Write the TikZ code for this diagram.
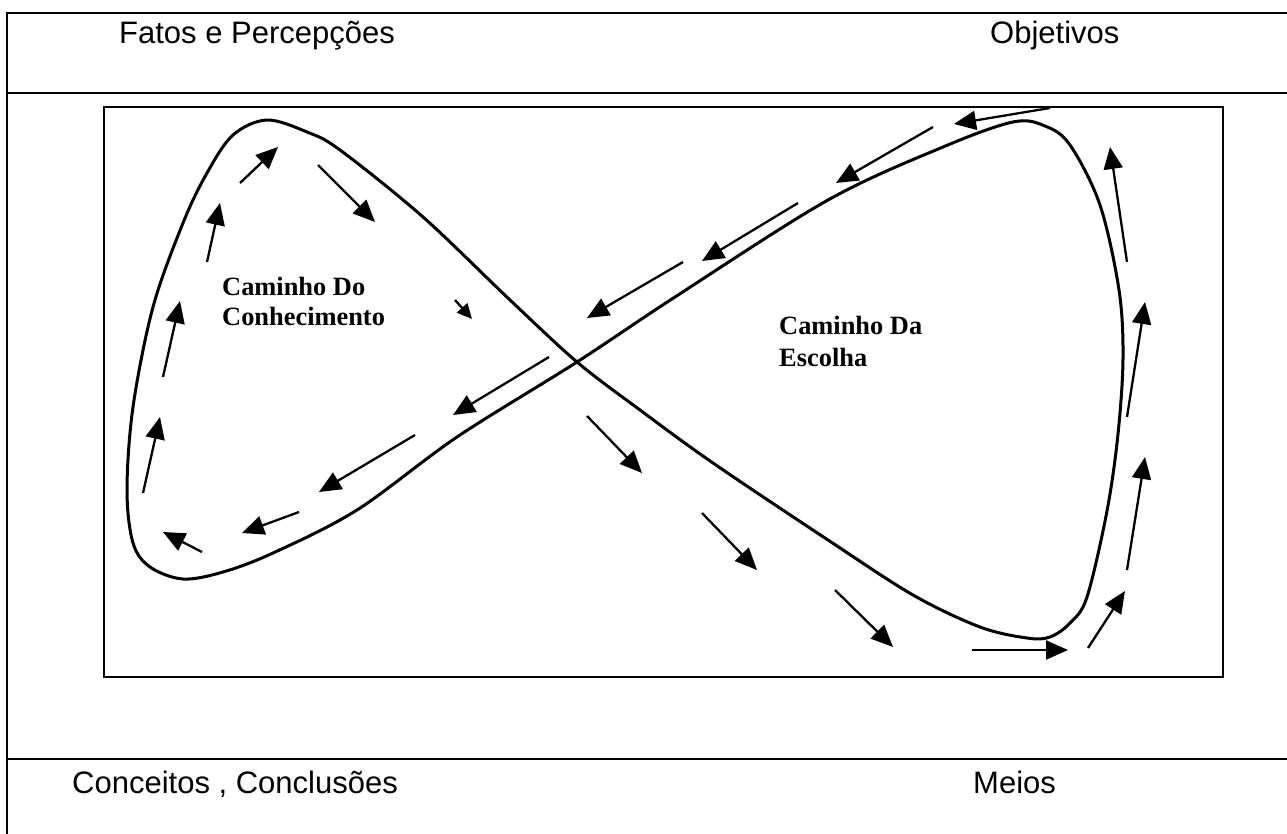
\documentclass[tikz,border=0pt]{standalone}
\usepackage{fontspec}
\setmainfont{Liberation Serif}
\newfontfamily\hdrfont{Liberation Sans}
\usetikzlibrary{arrows.meta}
\begin{document}
\begin{tikzpicture}[x=1pt,y=-1pt,
  frame/.style={line width=2pt},
  loopline/.style={line width=3pt, line join=round},
  flow/.style={line width=2.3pt, -{Triangle[length=22pt,width=19pt]}},
  smallflow/.style={line width=2.3pt, -{Triangle[length=15pt,width=14pt]}},
  header/.style={anchor=base west, inner sep=0pt, font=\hdrfont\fontsize{31}{37}\selectfont},
  pathlabel/.style={anchor=base west, inner sep=0pt, font=\bfseries\fontsize{26.4}{31}\selectfont}]
\useasboundingbox (0,0) rectangle (1287,834);
% outer table lines
\draw[frame] (1287,13) -- (7,13) -- (7,834);
\draw[frame] (7,93) -- (1287,93);
\draw[frame] (7,759) -- (1287,759);
% inner box
\draw[frame] (104,107) rectangle (1223,677);
% headers
\node[header] (fatos) at (119,44) {Fatos e Percepções};
\node[header] (obj) at (990,44) {Objetivos};
\node[header] (conc) at (72,793) {Conceitos , Conclusões};
\node[header] (meios) at (973,793) {Meios};
% labels
\node[pathlabel] (cdo1) at (222,295) {Caminho Do};
\node[pathlabel] (cdo2) at (222,325) {Conhecimento};
\node[pathlabel] (cda1) at (779,334) {Caminho Da};
\node[pathlabel] (cda2) at (779,366) {Escolha};
% figure eight
\draw[loopline] plot[smooth cycle, tension=0.55] coordinates {
 (577,362) (510,300) (423,217) (340,150) (307,132) (267,120) (233,135)
 (207,173) (183,223) (153,307) (133,407) (127,490) (133,543) (150,567)
 (183,579) (223,572) (273,553) (357,510) (457,437) (577,362)
 (675,297) (828,200) (943,147) (1013,122) (1045,126) (1070,145)
 (1100,205) (1119,290) (1123,358) (1118,434) (1107,511) (1087,597)
 (1070,623) (1050,637) (1027,638) (980,627) (913,595) (828,540)
 (713,463) (640,410)};
% arrows left lobe
\draw[flow] (240,183) -- (278,147);
\draw[flow] (318,165) -- (375,222);
\draw[smallflow] (455,300) -- (472,319);
\draw[flow] (207,262) -- (220,203);
\draw[flow] (163,377) -- (180,301);
\draw[flow] (143,493) -- (160,417);
\draw[flow] (202,552) -- (163,532);
\draw[flow] (299,512) -- (242,533);
\draw[flow] (415,435) -- (319,492);
\draw[flow] (549,357) -- (453,415);
% arrows along the rising line
\draw[flow] (1050,108) -- (954,124);
\draw[flow] (933,127) -- (836,183);
\draw[flow] (798,203) -- (702,261);
\draw[flow] (683,262) -- (587,318);
% arrows along the falling line
\draw[flow] (587,416) -- (642,473);
\draw[flow] (702,513) -- (757,570);
\draw[flow] (835,590) -- (893,647);
% arrows right lobe
\draw[flow] (972,650) -- (1068,650);
\draw[flow] (1088,648) -- (1125,591);
\draw[flow] (1127,570) -- (1145,457);
\draw[flow] (1127,417) -- (1145,302);
\draw[flow] (1127,262) -- (1110,147);
\end{tikzpicture}
\end{document}
